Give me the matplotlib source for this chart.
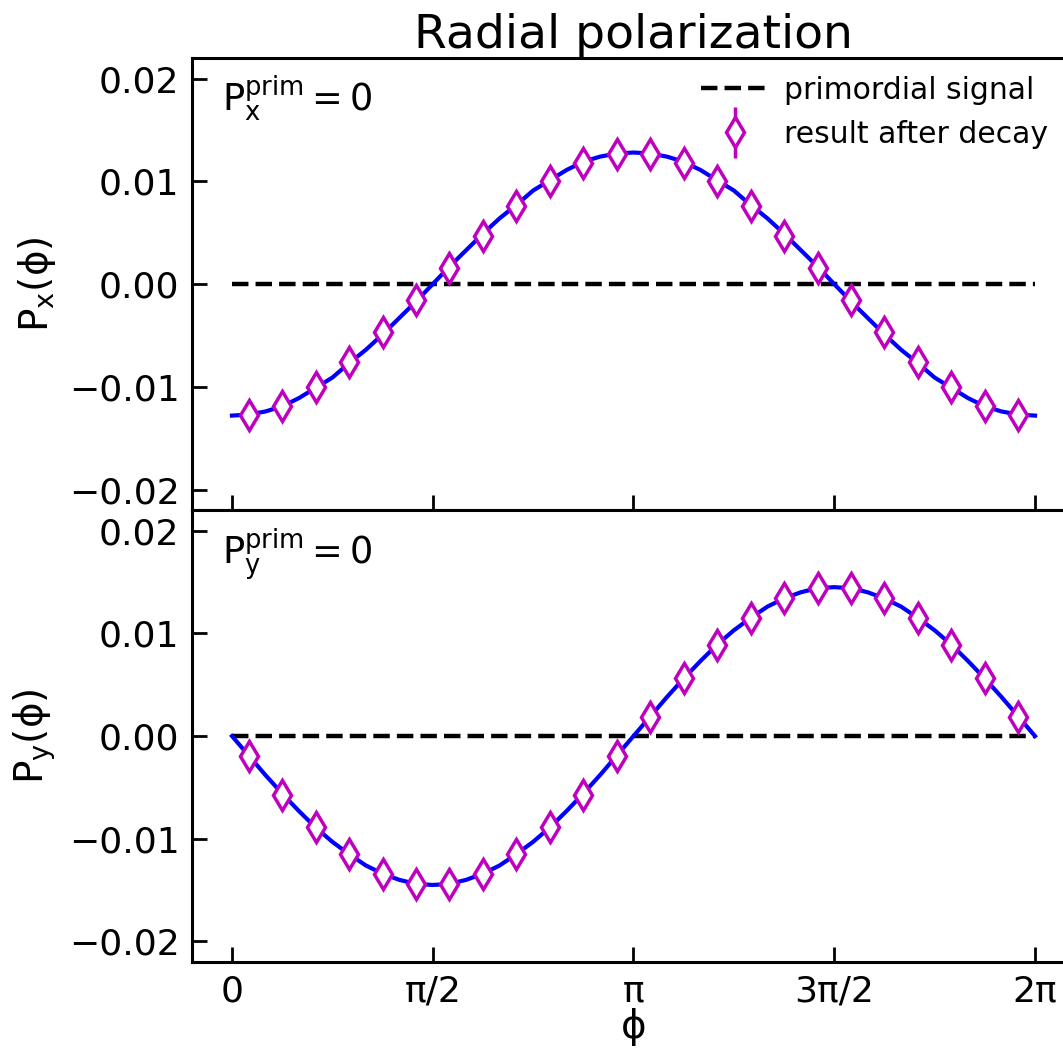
import numpy as np
import matplotlib.pyplot as plt
from matplotlib.legend_handler import HandlerErrorbar

# curve sampled every pi/24, markers at the bin centres (odd multiples of pi/24)
px_curve = [-0.0128, -0.0127, -0.0124, -0.0119, -0.0111, -0.0101, -0.0091, -0.0077,
            -0.0064, -0.0049, -0.0033, -0.0017, 0.0000, 0.0017, 0.0033, 0.0049,
            0.0064, 0.0077, 0.0091, 0.0101, 0.0111, 0.0119, 0.0124, 0.0127,
            0.0128, 0.0127, 0.0124, 0.0119, 0.0111, 0.0101, 0.0091, 0.0077,
            0.0064, 0.0049, 0.0033, 0.0017, 0.0000, -0.0017, -0.0033, -0.0049,
            -0.0064, -0.0077, -0.0091, -0.0101, -0.0111, -0.0119, -0.0124, -0.0127,
            -0.0128]
py_curve = [0.0000, -0.0019, -0.0038, -0.0056, -0.0073, -0.0089, -0.0103, -0.0115,
            -0.0126, -0.0134, -0.0140, -0.0144, -0.0145, -0.0144, -0.0140, -0.0134,
            -0.0126, -0.0115, -0.0103, -0.0089, -0.0073, -0.0056, -0.0038, -0.0019,
            0.0000, 0.0019, 0.0038, 0.0056, 0.0073, 0.0089, 0.0103, 0.0115,
            0.0126, 0.0134, 0.0140, 0.0144, 0.0145, 0.0144, 0.0140, 0.0134,
            0.0126, 0.0115, 0.0103, 0.0089, 0.0073, 0.0056, 0.0038, 0.0019,
            0.0000]

px_pts = [-0.0127, -0.0119, -0.0100, -0.0076, -0.0047, -0.0016, 0.0016, 0.0047,
          0.0076, 0.0100, 0.0118, 0.0127, 0.0127, 0.0118, 0.0100, 0.0076,
          0.0047, 0.0016, -0.0016, -0.0047, -0.0076, -0.0100, -0.0119, -0.0127]
py_pts = [-0.0019, -0.0057, -0.0089, -0.0115, -0.0134, -0.0144, -0.0144, -0.0134,
          -0.0115, -0.0089, -0.0057, -0.0019, 0.0019, 0.0057, 0.0089, 0.0115,
          0.0134, 0.0144, 0.0144, 0.0134, 0.0115, 0.0089, 0.0057, 0.0019]
err = 0.0002

xtick_labels = ['0', 'π/2', 'π', '3π/2', '2π']

phi_curve = np.linspace(0, 2*np.pi, len(px_curve))
nb = len(px_pts)
phi_pts = (np.arange(nb) + 0.5) * 2*np.pi / nb

fig = plt.figure(figsize=(10.63, 10.54), dpi=100)
left, width = 0.1806, 0.8307
ax1 = fig.add_axes([left, 0.516, width, 0.429])
ax2 = fig.add_axes([left, 0.0873, width, 0.4287])

ebs = []
for ax, curve, pts, lab, ann in [(ax1, px_curve, px_pts, r'$\mathrm{P_x(\phi)}$', r'$\mathrm{P_x^{prim} = 0}$'),
                                 (ax2, py_curve, py_pts, r'$\mathrm{P_y(\phi)}$', r'$\mathrm{P_y^{prim} = 0}$')]:
    ax.plot(phi_curve, curve, color='b', lw=3, zorder=2)
    ax.plot([0, 2*np.pi], [0, 0], 'k--', lw=3.2, label='primordial signal', zorder=1)
    eb = ax.errorbar(phi_pts, pts, yerr=err, fmt='d', color='m', mfc='white', mec='m',
                     ms=15, mew=2.5, elinewidth=2.5, label='result after decay', zorder=3)
    ebs.append(eb)
    ax.set_xlim(-0.313, 2*np.pi + 0.313)
    ax.set_ylim(-0.022, 0.022)
    ax.set_yticks([-0.02, -0.01, 0.0, 0.01, 0.02])
    ax.set_xticks([0, np.pi/2, np.pi, 3*np.pi/2, 2*np.pi])
    ax.set_ylabel(lab, fontsize=28, labelpad=8)
    ax.tick_params(direction='in', length=11, width=2, labelsize=26, pad=9)
    for s in ax.spines.values():
        s.set_linewidth(2.2)
    ax.text(0.034, 0.965, ann, transform=ax.transAxes, fontsize=26.5, va='top', ha='left')

ax1.set_xticklabels([])
ax2.set_xticklabels(xtick_labels)
ax2.set_xlabel('ϕ', fontsize=28, labelpad=0)
ax1.set_title('Radial polarization', fontsize=34, pad=5)
ax1.legend(loc='upper right', bbox_to_anchor=(0.99, 1.0), frameon=False, fontsize=21.5,
           handlelength=2.3, handletextpad=0.5, borderaxespad=0.2, labelspacing=0.5,
           handler_map={type(ebs[0]): HandlerErrorbar(xerr_size=0.5, yerr_size=0.85)})

fig.savefig('out.png', dpi=100)
